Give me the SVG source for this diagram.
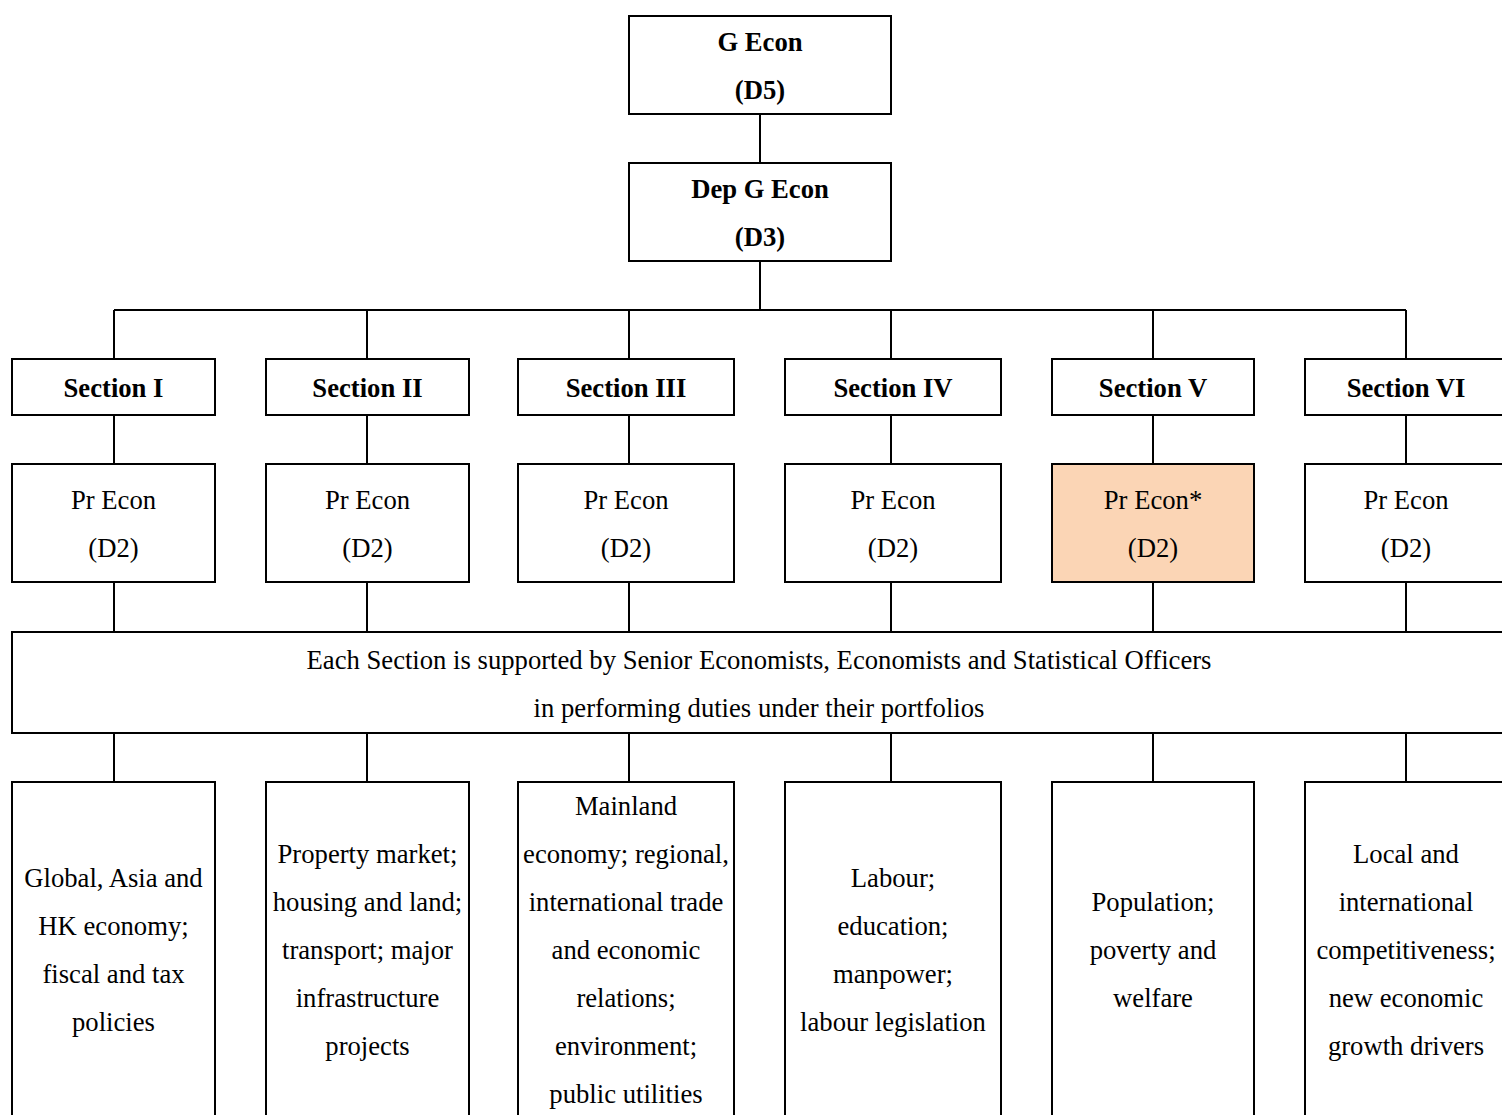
<svg xmlns="http://www.w3.org/2000/svg" width="1502" height="1115" viewBox="0 0 1502 1115">
<style>
  .box { fill: #ffffff; stroke: #000000; stroke-width: 2; }
  .hl { fill: #FBD5B5; }
  .con { fill: none; stroke: #000000; stroke-width: 2; }
  text { font-family: "Liberation Serif", "Times New Roman", serif; font-size: 26.67px; fill: #000000; text-anchor: middle; }
  .b { font-weight: bold; }
</style>
<rect x="0" y="0" width="1502" height="1115" fill="#ffffff"/>
<g id="connectors">
  <path class="con" d="M760 114 V163 M760 261 V310 M114 310 H1406"/>
  <path class="con" d="M114 310 V359 M367 310 V359 M629 310 V359 M891 310 V359 M1153 310 V359 M1406 310 V359"/>
  <path class="con" d="M114 415 V464 M367 415 V464 M629 415 V464 M891 415 V464 M1153 415 V464 M1406 415 V464"/>
  <path class="con" d="M114 582 V632 M367 582 V632 M629 582 V632 M891 582 V632 M1153 582 V632 M1406 582 V632"/>
  <path class="con" d="M114 733 V782 M367 733 V782 M629 733 V782 M891 733 V782 M1153 733 V782 M1406 733 V782"/>
</g>
<g id="g-econ">
  <rect class="box" x="629" y="16" width="262" height="98"/>
  <text class="b" x="760" y="51">G Econ</text>
  <text class="b" x="760" y="99">(D5)</text>
</g>
<g id="dep-g-econ">
  <rect class="box" x="629" y="163" width="262" height="98"/>
  <text class="b" x="760" y="198">Dep G Econ</text>
  <text class="b" x="760" y="246">(D3)</text>
</g>
<g id="section-1"><rect class="box" x="12" y="359" width="203" height="56"/><text class="b" x="113.5" y="397">Section I</text></g>
<g id="section-2"><rect class="box" x="266" y="359" width="203" height="56"/><text class="b" x="367.5" y="397">Section II</text></g>
<g id="section-3"><rect class="box" x="518" y="359" width="216" height="56"/><text class="b" x="626" y="397">Section III</text></g>
<g id="section-4"><rect class="box" x="785" y="359" width="216" height="56"/><text class="b" x="893" y="397">Section IV</text></g>
<g id="section-5"><rect class="box" x="1052" y="359" width="202" height="56"/><text class="b" x="1153" y="397">Section V</text></g>
<g id="section-6"><rect class="box" x="1305" y="359" width="203" height="56"/><text class="b" x="1406" y="397">Section VI</text></g>

<g id="pr-1"><rect class="box" x="12" y="464" width="203" height="118"/><text x="113.5" y="509">Pr Econ</text><text x="113.5" y="557">(D2)</text></g>
<g id="pr-2"><rect class="box" x="266" y="464" width="203" height="118"/><text x="367.5" y="509">Pr Econ</text><text x="367.5" y="557">(D2)</text></g>
<g id="pr-3"><rect class="box" x="518" y="464" width="216" height="118"/><text x="626" y="509">Pr Econ</text><text x="626" y="557">(D2)</text></g>
<g id="pr-4"><rect class="box" x="785" y="464" width="216" height="118"/><text x="893" y="509">Pr Econ</text><text x="893" y="557">(D2)</text></g>
<g id="pr-5"><rect class="box hl" x="1052" y="464" width="202" height="118"/><text x="1153" y="509">Pr Econ*</text><text x="1153" y="557">(D2)</text></g>
<g id="pr-6"><rect class="box" x="1305" y="464" width="203" height="118"/><text x="1406" y="509">Pr Econ</text><text x="1406" y="557">(D2)</text></g>

<g id="support">
  <rect class="box" x="12" y="632" width="1500" height="101"/>
  <text x="759" y="669">Each Section is supported by Senior Economists, Economists and Statistical Officers</text>
  <text x="759" y="717">in performing duties under their portfolios</text>
</g>

<g id="duty-1">
  <rect class="box" x="12" y="782" width="203" height="350"/>
  <text x="113.5" y="887">Global, Asia and</text>
  <text x="113.5" y="935">HK economy;</text>
  <text x="113.5" y="983">fiscal and tax</text>
  <text x="113.5" y="1031">policies</text>
</g>
<g id="duty-2">
  <rect class="box" x="266" y="782" width="203" height="350"/>
  <text x="367.5" y="863">Property market;</text>
  <text x="367.5" y="911">housing and land;</text>
  <text x="367.5" y="959">transport; major</text>
  <text x="367.5" y="1007">infrastructure</text>
  <text x="367.5" y="1055">projects</text>
</g>
<g id="duty-3">
  <rect class="box" x="518" y="782" width="216" height="350"/>
  <text x="626" y="815">Mainland</text>
  <text x="626" y="863">economy; regional,</text>
  <text x="626" y="911">international trade</text>
  <text x="626" y="959">and economic</text>
  <text x="626" y="1007">relations;</text>
  <text x="626" y="1055">environment;</text>
  <text x="626" y="1103">public utilities</text>
</g>
<g id="duty-4">
  <rect class="box" x="785" y="782" width="216" height="350"/>
  <text x="893" y="887">Labour;</text>
  <text x="893" y="935">education;</text>
  <text x="893" y="983">manpower;</text>
  <text x="893" y="1031">labour legislation</text>
</g>
<g id="duty-5">
  <rect class="box" x="1052" y="782" width="202" height="350"/>
  <text x="1153" y="911">Population;</text>
  <text x="1153" y="959">poverty and</text>
  <text x="1153" y="1007">welfare</text>
</g>
<g id="duty-6">
  <rect class="box" x="1305" y="782" width="203" height="350"/>
  <text x="1406" y="863">Local and</text>
  <text x="1406" y="911">international</text>
  <text x="1406" y="959">competitiveness;</text>
  <text x="1406" y="1007">new economic</text>
  <text x="1406" y="1055">growth drivers</text>
</g>
</svg>
